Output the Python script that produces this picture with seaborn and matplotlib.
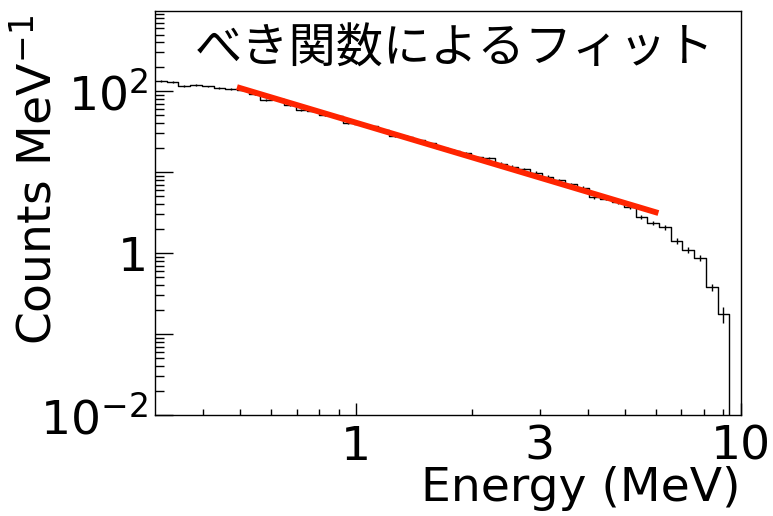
import numpy as np
import pandas as pd
import matplotlib
matplotlib.use("Agg")
import matplotlib.pyplot as plt
from matplotlib.ticker import FixedLocator, FixedFormatter, FuncFormatter, LogLocator, NullFormatter
import seaborn as sns

## ===================== data =====================

# 50 log-spaced bins between 0.3 and 10 MeV
bin_edges = np.geomspace(0.3, 10.0, 51)

# counts per MeV, one value per bin (last bin is empty)
counts = [133, 131, 115, 120, 114, 110, 106, 103, 91.8, 78.5,
          80.8, 68.1, 59.1, 56.6, 51.3, 49.1, 40.8, 39.1, 37.0, 33.0,
          28.2, 27.4, 24.8, 22.8, 19.8, 18.4, 17.2, 15.3, 14.9, 12.7,
          11.7, 10.9, 9.86, 8.80, 7.96, 7.11, 6.35, 4.91, 4.71, 4.26,
          3.70, 2.78, 2.35, 2.09, 1.41, 1.09, 0.868, 0.380, 0.177, 0.0]
errors = [3.3, 3.3, 2.9, 3.0, 2.9, 2.8, 2.7, 2.6, 2.3, 2.0,
          2.0, 2.0, 1.8, 1.7, 1.5, 1.5, 1.2, 1.2, 1.1, 1.0,
          0.85, 0.96, 0.87, 0.80, 0.69, 0.64, 0.60, 0.54, 0.52, 0.44,
          0.41, 0.49, 0.44, 0.40, 0.36, 0.32, 0.29, 0.22, 0.21, 0.19,
          0.17, 0.17, 0.15, 0.14, 0.11, 0.09, 0.08, 0.04, 0.04, 0.0]

# power-law fit, end points
fit_energy = [0.49, 6.1]
fit_counts = [112, 3.12]

x_major_ticks = [1, 10]
x_major_labels = ["1", "10"]
x_minor_ticks = [0.4, 0.5, 0.6, 0.7, 0.8, 0.9, 2, 3, 4, 5, 6, 7, 8, 9]
x_minor_labels = {3: "3"}
y_major_ticks = [0.01, 0.1, 1, 10, 100]
y_major_labels = ["$10^{-2}$", "", "1", "", "$10^{2}$"]

title = "べき関数によるフィット"
x_title = "Energy (MeV)"
y_title = "Counts MeV$^{-1}$"

## ===================== draw =====================

sns.set_theme(style="white")
plt.rcParams["font.family"] = ["DejaVu Sans", "Noto Sans CJK JP"]
plt.rcParams["mathtext.fontset"] = "dejavusans"

fig, ax = plt.subplots(figsize=(7.73, 5.16), dpi=100)
fig.subplots_adjust(left=0.2005, right=0.9586, bottom=0.1957, top=0.979)

hist = pd.DataFrame({"Energy": bin_edges, "Counts": counts + [counts[-1]]})
sns.lineplot(data=hist, x="Energy", y="Counts", ax=ax, estimator=None, sort=False,
             drawstyle="steps-post", color="black", linewidth=1.0)

centers = np.sqrt(bin_edges[:-1] * bin_edges[1:])
err = pd.DataFrame({"Energy": centers, "Counts": counts, "Err": errors})
err = err[err["Counts"] > 0]
ax.errorbar(err["Energy"], err["Counts"], yerr=err["Err"], fmt="none",
            ecolor="black", elinewidth=1.0, capsize=0)

sns.lineplot(x=fit_energy, y=fit_counts, ax=ax, color="#ff2400", linewidth=4.2,
             estimator=None, sort=False, solid_capstyle="butt")

ax.set_xscale("log")
ax.set_yscale("log")
ax.set_xlim(0.3, 10)
ax.set_ylim(0.01, 980)

ax.xaxis.set_major_locator(FixedLocator(x_major_ticks))
ax.xaxis.set_major_formatter(FixedFormatter(x_major_labels))
ax.xaxis.set_minor_locator(FixedLocator(x_minor_ticks))
ax.xaxis.set_minor_formatter(FuncFormatter(lambda v, p: x_minor_labels.get(int(round(v)), "") if abs(v - round(v)) < 1e-6 else ""))
ax.yaxis.set_major_locator(FixedLocator(y_major_ticks))
ax.yaxis.set_major_formatter(FixedFormatter(y_major_labels))
ax.yaxis.set_minor_locator(LogLocator(base=10, subs=np.arange(2, 10), numticks=20))
ax.yaxis.set_minor_formatter(NullFormatter())

ax.tick_params(axis="both", which="both", direction="in", bottom=True, left=True,
               top=False, right=False, color="black", width=1.0, labelsize=34, labelcolor="black")
ax.tick_params(axis="x", which="major", length=8.6, pad=7)
ax.tick_params(axis="x", which="minor", length=4.3, pad=7)
ax.tick_params(axis="y", which="major", length=13, pad=5)
ax.tick_params(axis="y", which="minor", length=6.5)

for s in ax.spines.values():
    s.set_color("black")
    s.set_linewidth(1.0)

# ROOT-style axis titles, pinned to the far end of each axis
ax.set_xlabel(x_title, loc="right", fontsize=34, color="black")
ax.xaxis.set_label_coords(1.0, -0.125)
ax.set_ylabel(y_title, loc="top", fontsize=34, color="black")
ax.yaxis.set_label_coords(-0.16, 0.99)

ax.text(0.068, 0.905, title, transform=ax.transAxes, fontsize=34, va="center", ha="left",
        color="black", family=["Noto Sans CJK JP", "DejaVu Sans"])

fig.savefig("out.png", dpi=100)
